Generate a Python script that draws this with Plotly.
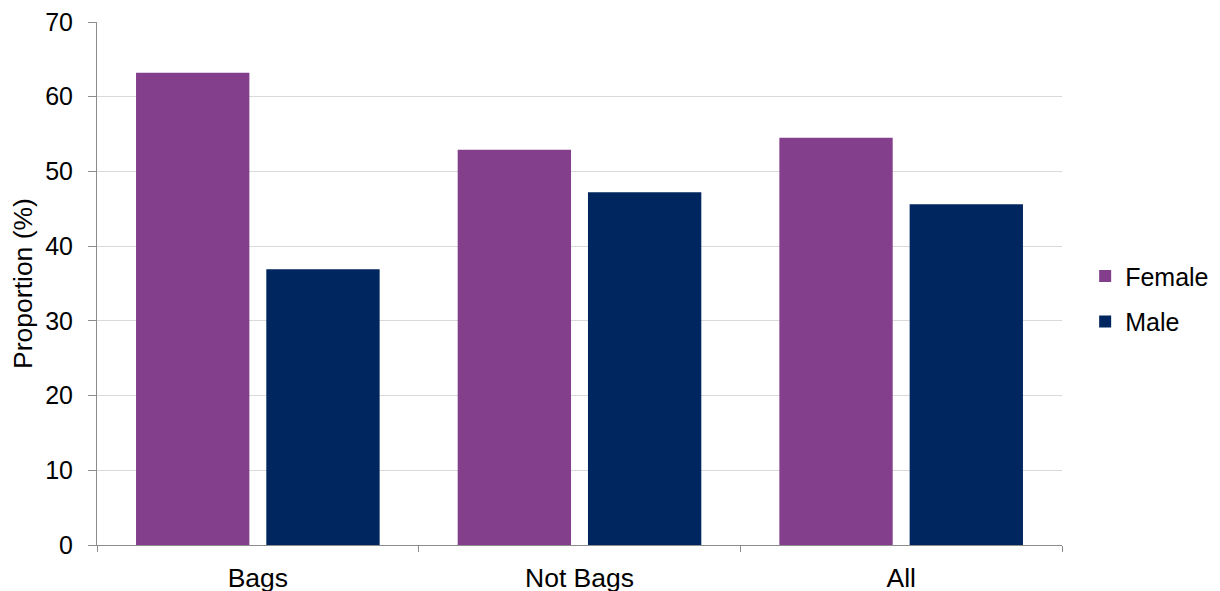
import plotly.graph_objects as go

categories = ["Bags", "Not Bags", "All"]
female = [63.2, 52.9, 54.5]
male = [36.9, 47.2, 45.6]
y_ticks = [0, 10, 20, 30, 40, 50, 60, 70]

FONT = "Liberation Sans, Arial, sans-serif"
FS = 25
FSX = 26.5
OFF = 8  # page body margin

fig = go.Figure()
fig.add_trace(go.Bar(x=categories, y=female, name="Female", legendgroup="f",
                     marker=dict(color="#833F8C", line=dict(width=0))))
fig.add_trace(go.Bar(x=categories, y=male, name="Male", legendgroup="m",
                     marker=dict(color="#00265F", line=dict(width=0))))

fig.update_layout(
    width=1220, height=591,
    margin=dict(l=97 - OFF, r=1220 - (1062 - OFF), t=22 - OFF, b=591 - (545 - OFF), autoexpand=False),
    paper_bgcolor="white", plot_bgcolor="white",
    barmode="group", bargap=0.19, bargroupgap=0.13,
    font=dict(family=FONT, size=FS, color="black"),
    showlegend=True,
    legend=dict(x=1.024, y=0.471, xanchor="left", yanchor="middle",
                font=dict(family=FONT, size=FS, color="black"),
                itemwidth=30, tracegroupgap=10, bgcolor="rgba(0,0,0,0)"),
    xaxis=dict(showline=True, linecolor="#8c8c8c", linewidth=1,
               ticks="outside", tickson="boundaries", ticklen=6, tickcolor="#8c8c8c",
               showgrid=False, tickfont=dict(family=FONT, size=FSX),
               ticklabelstandoff=9, automargin=False, ticklabeloverflow="allow"),
    yaxis=dict(range=[0, 70], tickvals=y_ticks, showline=True, linecolor="#8c8c8c", linewidth=1,
               ticks="outside", ticklen=8, tickcolor="#8c8c8c",
               showgrid=True, gridcolor="#d9d9d9", gridwidth=1, zeroline=False,
               tickfont=dict(family=FONT, size=FS), ticklabelstandoff=10, automargin=False,
               ticklabeloverflow="allow",
               title=dict(text="Proportion (%)", font=dict(family=FONT, size=FSX), standoff=10)),
)

fig.write_html("out.html")
